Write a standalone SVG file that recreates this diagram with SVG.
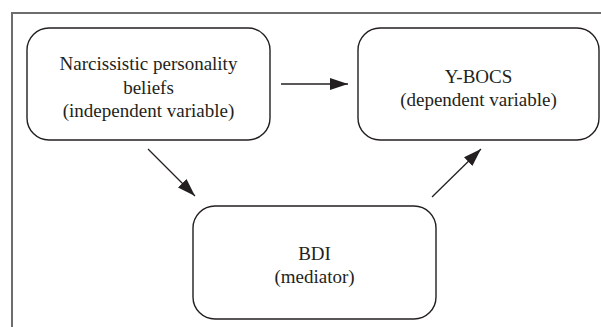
<svg xmlns="http://www.w3.org/2000/svg" width="601" height="327" viewBox="0 0 601 327">
<style>
.frame{fill:none;stroke:#6d6d6d;stroke-width:2}
.box{fill:#fff;stroke:#231f20;stroke-width:1.4}
.lbl{font-family:"Liberation Serif","Times New Roman",serif;font-size:19px;fill:#231f20;text-anchor:middle}
.conn{stroke:#231f20;stroke-width:1.3;fill:none;marker-end:url(#ah)}
</style>
<defs>
<marker id="ah" markerUnits="userSpaceOnUse" markerWidth="19" markerHeight="12" refX="18" refY="6" orient="auto">
<path d="M0,0 L18,6 L0,12 Z" fill="#231f20"/>
</marker>
</defs>
<rect width="601" height="327" fill="#fff"/>
<path class="frame" d="M12,327 V13 H601"/>
<g id="node-narcissistic">
<rect class="box" x="27" y="28" width="243" height="112" rx="22"/>
<text class="lbl" x="148.5" y="70">Narcissistic personality</text>
<text class="lbl" x="148.5" y="94">beliefs</text>
<text class="lbl" x="148.5" y="117">(independent variable)</text>
</g>
<g id="node-ybocs">
<rect class="box" x="358" y="28" width="241" height="112" rx="22"/>
<text class="lbl" x="478.5" y="83">Y-BOCS</text>
<text class="lbl" x="478.5" y="106">(dependent variable)</text>
</g>
<g id="node-bdi">
<rect class="box" x="193" y="206" width="243" height="113" rx="22"/>
<text class="lbl" x="314.5" y="260">BDI</text>
<text class="lbl" x="314.5" y="283">(mediator)</text>
</g>
<g id="connectors">
<line class="conn" x1="281" y1="84" x2="348" y2="84"/>
<line class="conn" x1="148" y1="149" x2="195" y2="196"/>
<line class="conn" x1="432" y1="197" x2="481" y2="149"/>
</g>
</svg>
